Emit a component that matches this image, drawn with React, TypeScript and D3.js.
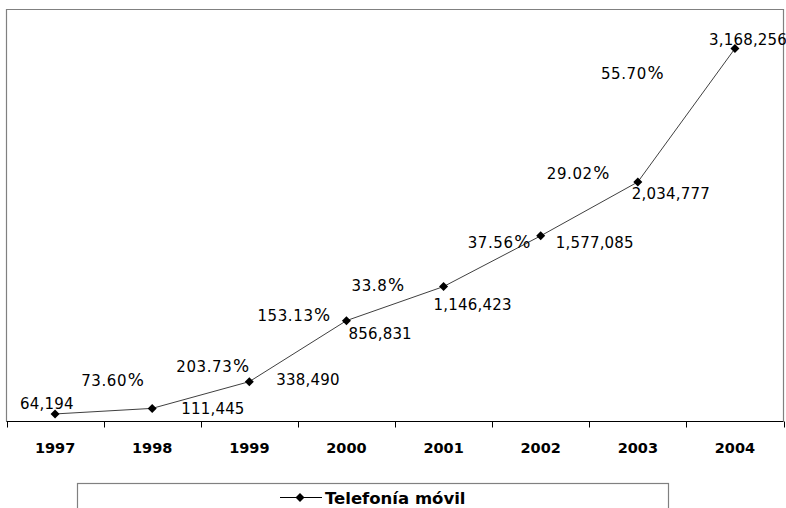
import React from "react";
import * as d3 from "d3";

const years = ["1997", "1998", "1999", "2000", "2001", "2002", "2003", "2004"];
const subscribers = [64194, 111445, 338490, 856831, 1146423, 1577085, 2034777, 3168256];
const growthLabels = ["", "73.60%", "203.73%", "153.13%", "33.8%", "37.56%", "29.02%", "55.70%"];
const seriesName = "Telefonía móvil";

// label placement offsets (start anchor), relative to each point
const valueOffsets: [number, number][] = [
  [-35, -5], [29, 5.5], [27, 3.5], [2, 18.5], [-10, 23.5], [15, 12.5], [-6, 17.5], [-26, -3.5],
];
const growthOffsets: [number, number][] = [
  [0, 0], [-71, -22.5], [-73, -9.5], [-89, 0.5], [-92, 4.5], [-73, 12.5], [-91, -2.5], [-134, 30.5],
];

const W = 786, H = 508;
const left = 6.5, right = 783.5, top = 9.5, axisY = 421.5;

export default function App() {
  const x = d3.scaleBand<string>().domain(years).range([left, right]).paddingInner(0).paddingOuter(0);
  const y = d3.scaleLinear().domain([0, 3500000]).range([axisY, top]);
  const fmt = d3.format(",");
  const pts = subscribers.map((v, i) => [x(years[i])! + x.bandwidth() / 2, y(v)] as [number, number]);
  const line = d3.line()(pts) || "";
  const diamond = (cx: number, cy: number, r = 4.5) =>
    `M${cx},${cy - r}L${cx + r},${cy}L${cx},${cy + r}L${cx - r},${cy}Z`;
  const tickXs = [...years.map((yr) => x(yr)!), right];

  return (
    <svg width={W} height={H} style={{ position: "absolute", left: 0, top: 0, background: "#fff" }}>
      {/* frame */}
      <path d={`M${left},${axisY}V${top}H${right}V${axisY}`} fill="none" stroke="#808080" strokeWidth={1.2} />
      {/* axis */}
      <line x1={left} x2={right} y1={axisY} y2={axisY} stroke="#000" strokeWidth={1} />
      {tickXs.map((tx, i) => (
        <line key={i} x1={Math.round(tx) + 0.5} x2={Math.round(tx) + 0.5} y1={axisY} y2={axisY + 6} stroke="#000" />
      ))}
      {years.map((yr) => (
        <text key={yr} x={x(yr)! + x.bandwidth() / 2} y={452.5} textAnchor="middle"
          fontFamily="DejaVu Sans" fontWeight="bold" fontSize={14.5}>{yr}</text>
      ))}
      {/* series */}
      <path d={line} fill="none" stroke="#404040" strokeWidth={1} />
      {pts.map(([px, py], i) => (
        <path key={i} d={diamond(px, py)} fill="#000" />
      ))}
      {pts.map(([px, py], i) => (
        <text key={"v" + i} x={px + valueOffsets[i][0]} y={py + valueOffsets[i][1]}
          fontFamily="DejaVu Sans" fontSize={15} letterSpacing={0.2}>{fmt(subscribers[i])}</text>
      ))}
      {pts.map(([px, py], i) =>
        growthLabels[i] ? (
          <text key={"g" + i} x={px + growthOffsets[i][0]} y={py + growthOffsets[i][1]}
            fontFamily="DejaVu Sans" fontSize={15} letterSpacing={0.6}>
            {growthLabels[i].replace("%", "")}
            <tspan dx={0.5} fontSize={17}>%</tspan>
          </text>
        ) : null
      )}
      {/* legend */}
      <rect x={77.5} y={483.5} width={591} height={40} fill="#fff" stroke="#808080" strokeWidth={1.2} />
      <line x1={280} x2={322} y1={497.5} y2={497.5} stroke="#000" strokeWidth={1} />
      <path d={diamond(300, 497.5)} fill="#000" />
      <text x={325} y={503.5} fontFamily="DejaVu Sans" fontWeight="bold" fontSize={16.5}>{seriesName}</text>
    </svg>
  );
}
